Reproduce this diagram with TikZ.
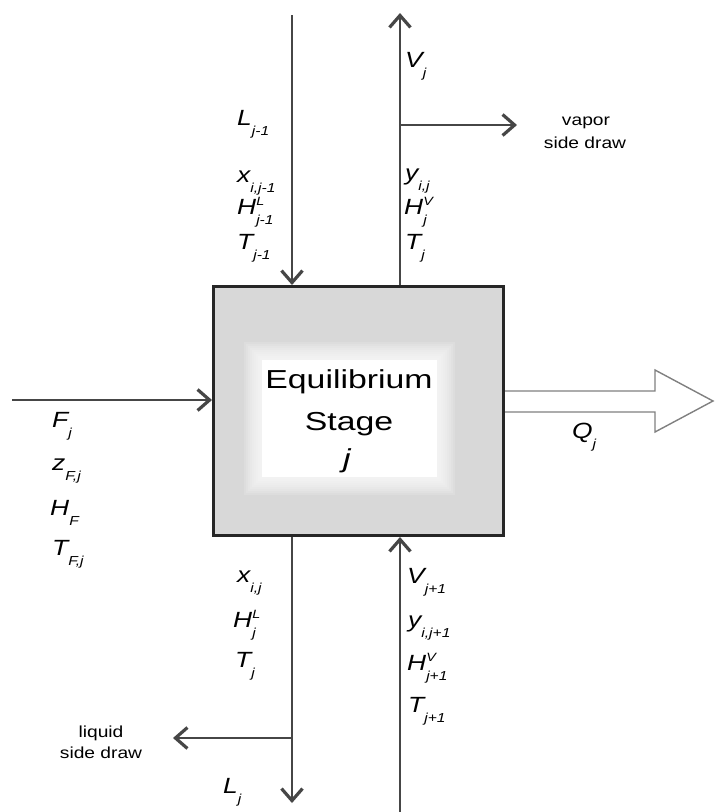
\documentclass[tikz,border=0pt]{standalone}
\usepackage{fontspec}
\setmainfont{Liberation Sans}[FakeStretch=1.2]
\newfontfamily\eqfont{Liberation Sans}[FakeStretch=1.3]
\usetikzlibrary{arrows.meta}
\definecolor{boxgray}{RGB}{216,216,216}
\definecolor{linegray}{RGB}{70,70,70}
\newcommand\scr{\fontsize{13}{13}\selectfont}
\newcommand\suptxt{\fontsize{12}{12}\selectfont}
\newcommand\vl[3]{\mbox{#1\rlap{\raisebox{9pt}{\suptxt #3}}\raisebox{-10pt}{\scr #2}}}
\begin{document}
\begin{tikzpicture}[x=1pt,y=-1pt,
  flow/.style={draw=linegray, line width=1.3pt,
    -{Straight Barb[length=12pt,width=21pt,line width=3.2pt]}},
  lbl/.style={anchor=base west, inner sep=0pt, font=\fontsize{22}{22}\selectfont\itshape},
  sidetxt/.style={anchor=base, inner sep=0pt, font=\fontsize{16}{16}\selectfont},
  eqtxt/.style={anchor=base, inner sep=0pt, font=\eqfont\fontsize{26}{26}\selectfont},
  stagebox/.style={draw=black!85, line width=3pt, minimum width=290pt, minimum height=249pt, inner sep=0pt},
  heat/.style={draw=black!50, line width=1.4pt, fill=white, line join=miter}
]
\useasboundingbox (0,0) rectangle (715,812);
% box fill
\fill[boxgray] (212,285) rectangle (505,537);
\foreach \d in {18,16,14,12,10,8,6,4,2}
  \fill[white, opacity=0.14] (262-\d,360-\d) rectangle (437+\d,477+\d);
\fill[white] (262,360) rectangle (437,477);
\node[stagebox] (stage) at (358.5,411) {};
% texts inside
\node[eqtxt] (t1) at (349,388) {Equilibrium};
\node[eqtxt] (t2) at (349,430) {Stage};
\node[eqtxt, font=\eqfont\fontsize{26}{26}\selectfont\itshape] (t3) at (347,467) {j};
% coordinates
\coordinate (lt) at (292,15);
\coordinate (vt) at (400,13);
\coordinate (vs) at (400,125);
\coordinate (vse) at (517,125);
\coordinate (fs) at (12,400);
\coordinate (lb) at (292,803);
\coordinate (ls) at (292,738);
\coordinate (lse) at (173,738);
\coordinate (vb) at (400,812);
% connectors
\draw[flow] (lt) -- (lt |- stage.north);
\draw[flow] (vt |- stage.north) -- (vt);
\draw[flow] (vs) -- (vse);
\draw[flow] (fs) -- (fs -| stage.west);
\draw[flow] (lb |- stage.south) -- (lb);
\draw[flow] (ls) -- (lse);
\draw[flow] (vb) -- (vb |- stage.south);
% heat arrow
\draw[heat] (stage.east |- 0,391) -- (655,391) -- (655,370) -- (713,401) -- (655,432) -- (655,412) -- (stage.east |- 0,412);
\node[lbl] (q) at (572,438) {\vl{Q}{j}{}};
% side draw labels
\node[sidetxt] (vd1) at (586,125) {vapor};
\node[sidetxt] (vd2) at (585,148) {side draw};
\node[sidetxt] (ld1) at (101,737) {liquid};
\node[sidetxt] (ld2) at (101,758) {side draw};
% top left
\node[lbl] (a1) at (237,125) {\vl{L}{j-1}{}};
\node[lbl] (a2) at (237,182) {\vl{x}{i,j-1}{}};
\node[lbl] (a3) at (237,214) {\vl{H}{j-1}{L}};
\node[lbl] (a4) at (237,249) {\vl{T}{j-1}{}};
% top right
\node[lbl] (b1) at (405,67) {\vl{V}{j}{}};
\node[lbl] (b2) at (405,180) {\vl{y}{i,j}{}};
\node[lbl] (b3) at (404,214) {\vl{H}{j}{V}};
\node[lbl] (b4) at (405,249) {\vl{T}{j}{}};
% feed
\node[lbl] (c1) at (52,427) {\vl{F}{j}{}};
\node[lbl] (c2) at (52,470) {\vl{z}{F,j}{}};
\node[lbl] (c3) at (50,515) {\vl{H}{F}{}};
\node[lbl] (c4) at (52,555) {\vl{T}{F,j}{}};
% bottom left
\node[lbl] (d1) at (237,582) {\vl{x}{i,j}{}};
\node[lbl] (d2) at (233,627) {\vl{H}{j}{L}};
\node[lbl] (d3) at (235,667) {\vl{T}{j}{}};
\node[lbl] (d4) at (223,793) {\vl{L}{j}{}};
% bottom right
\node[lbl] (e1) at (407,583) {\vl{V}{j+1}{}};
\node[lbl] (e2) at (408,627) {\vl{y}{i,j+1}{}};
\node[lbl] (e3) at (407,670) {\vl{H}{j+1}{V}};
\node[lbl] (e4) at (408,712) {\vl{T}{j+1}{}};
\end{tikzpicture}
\end{document}
